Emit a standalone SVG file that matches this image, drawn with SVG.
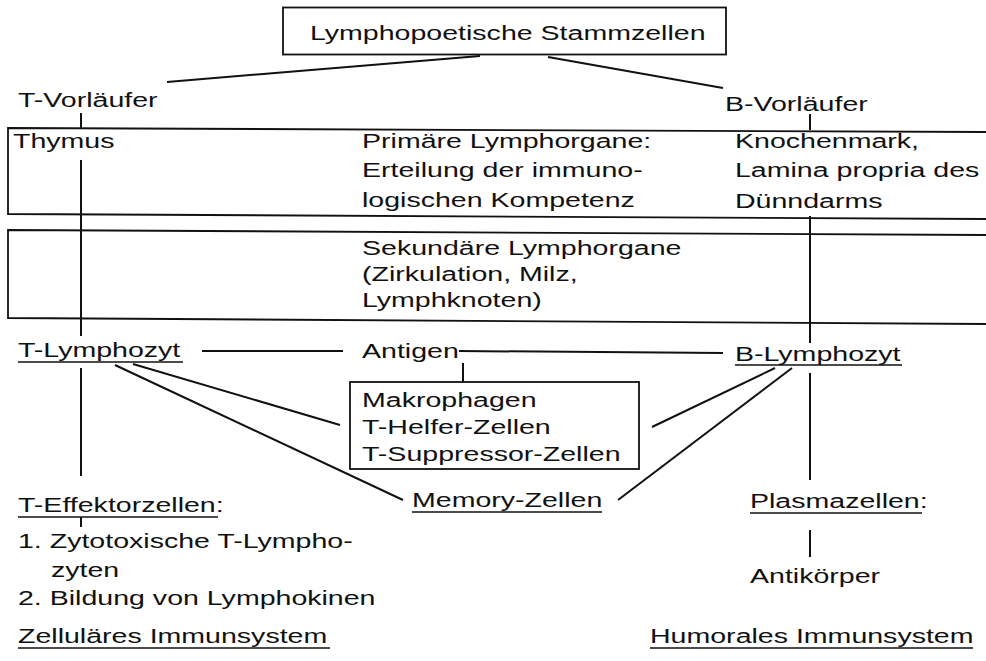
<svg xmlns="http://www.w3.org/2000/svg" width="986" height="661" viewBox="0 0 986 661">
<style>
text{font-family:"Liberation Sans",Arial,sans-serif;font-size:21px;fill:#111}
.ln{stroke:#111;stroke-width:2;fill:none;stroke-linecap:butt}
.bx{stroke:#111;stroke-width:1.8;fill:none}
.ul{stroke:#111;stroke-width:1.6}
</style>
<rect width="986" height="661" fill="#fff"/>
<g id="connectors">
<line class="ln" x1="480" y1="56" x2="167" y2="82"/>
<line class="ln" x1="548" y1="57" x2="723" y2="88"/>
<line class="ln" x1="81" y1="113" x2="81" y2="128"/>
<line class="ln" x1="81" y1="160" x2="81" y2="336"/>
<line class="ln" x1="81" y1="368" x2="81" y2="476"/>
<line class="ln" x1="81" y1="517" x2="81" y2="527"/>
<line class="ln" x1="810" y1="114" x2="810" y2="130"/>
<line class="ln" x1="810" y1="216" x2="810" y2="343"/>
<line class="ln" x1="810" y1="373" x2="810" y2="480"/>
<line class="ln" x1="810" y1="530" x2="810" y2="557"/>
<line class="ln" x1="202" y1="351" x2="343" y2="351"/>
<line class="ln" x1="459" y1="351" x2="723" y2="353"/>
<line class="ln" x1="463" y1="363" x2="463" y2="382"/>
<line class="ln" x1="133" y1="364" x2="340" y2="425"/>
<line class="ln" x1="115" y1="365" x2="403" y2="500"/>
<line class="ln" x1="775" y1="368" x2="652" y2="427"/>
<line class="ln" x1="792" y1="368" x2="618" y2="500"/>
</g>
<g id="stammzellen">
<rect class="bx" x="283" y="7.5" width="443" height="47"/>
<text transform="translate(310 40) scale(1.36 1)">Lymphopoetische Stammzellen</text>
</g>
<g id="t-vorlaeufer"><text transform="translate(18 107) scale(1.36 1)">T-Vorläufer</text></g>
<g id="b-vorlaeufer"><text transform="translate(725 111) scale(1.36 1)">B-Vorläufer</text></g>
<g id="primaere-lymphorgane">
<path class="bx" d="M986,132 L8,128 L8,214 L986,219"/>
<text transform="translate(13 148) scale(1.36 1)">Thymus</text>
<text transform="translate(362 148) scale(1.36 1)">Primäre Lymphorgane:</text>
<text transform="translate(362 177) scale(1.36 1)">Erteilung der immuno-</text>
<text transform="translate(362 207) scale(1.36 1)">logischen Kompetenz</text>
<text transform="translate(735 148) scale(1.36 1)">Knochenmark,</text>
<text transform="translate(735 177) scale(1.36 1)">Lamina propria des</text>
<text transform="translate(735 208) scale(1.36 1)">Dünndarms</text>
</g>
<g id="sekundaere-lymphorgane">
<path class="bx" d="M986,235 L8,230 L8,318 L986,324"/>
<text transform="translate(362 255) scale(1.36 1)">Sekundäre Lymphorgane</text>
<text transform="translate(362 281) scale(1.36 1)">(Zirkulation, Milz,</text>
<text transform="translate(362 307) scale(1.36 1)">Lymphknoten)</text>
</g>
<g id="t-lymphozyt">
<text transform="translate(18 357) scale(1.36 1)">T-Lymphozyt</text>
<line class="ul" x1="18" y1="362" x2="183" y2="362"/>
</g>
<g id="antigen"><text transform="translate(362 358) scale(1.36 1)">Antigen</text></g>
<g id="b-lymphozyt">
<text transform="translate(735 361) scale(1.36 1)">B-Lymphozyt</text>
<line class="ul" x1="735" y1="365" x2="902" y2="365"/>
</g>
<g id="helferzellen">
<rect class="bx" x="350" y="382" width="289" height="87"/>
<text transform="translate(362 407) scale(1.36 1)">Makrophagen</text>
<text transform="translate(362 434) scale(1.36 1)">T-Helfer-Zellen</text>
<text transform="translate(362 461) scale(1.36 1)">T-Suppressor-Zellen</text>
</g>
<g id="t-effektorzellen">
<text transform="translate(18 512) scale(1.36 1)">T-Effektorzellen:</text>
<line class="ul" x1="18" y1="517" x2="218" y2="517"/>
<text transform="translate(18 548) scale(1.36 1)">1. Zytotoxische T-Lympho-</text>
<text transform="translate(51 577) scale(1.36 1)">zyten</text>
<text transform="translate(18 605) scale(1.36 1)">2. Bildung von Lymphokinen</text>
</g>
<g id="memory-zellen">
<text transform="translate(412 507) scale(1.36 1)">Memory-Zellen</text>
<line class="ul" x1="412" y1="512" x2="602" y2="512"/>
</g>
<g id="plasmazellen">
<text transform="translate(750 508) scale(1.36 1)">Plasmazellen:</text>
<line class="ul" x1="750" y1="513" x2="922" y2="513"/>
</g>
<g id="antikoerper"><text transform="translate(750 583) scale(1.36 1)">Antikörper</text></g>
<g id="zellulaer">
<text transform="translate(18 643) scale(1.36 1)">Zelluläres Immunsystem</text>
<line class="ul" x1="18" y1="648" x2="330" y2="648"/>
</g>
<g id="humoral">
<text transform="translate(650 643) scale(1.36 1)">Humorales Immunsystem</text>
<line class="ul" x1="650" y1="648" x2="973" y2="648"/>
</g>
</svg>
